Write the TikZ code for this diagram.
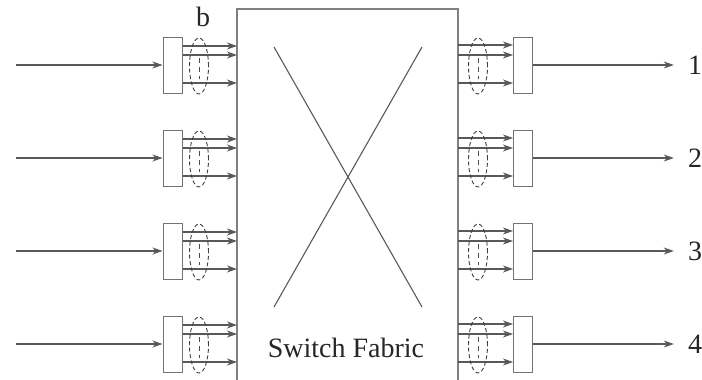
\documentclass[tikz,border=0pt]{standalone}
\usepackage{fontspec}
\setmainfont{Liberation Serif}
\usetikzlibrary{arrows.meta,shapes.geometric}
\begin{document}
\begin{tikzpicture}[x=1pt,y=-1pt,
  ln/.style={draw=black!65,line width=1.1pt},
  arr/.style={ln,-{Stealth[length=10pt,width=7pt,inset=3pt]}},
  portbox/.style={draw=black!55,line width=1pt,minimum width=19pt,minimum height=56pt,inner sep=0pt,fill=white},
  bundle/.style={ellipse,draw=black!75,line width=0.9pt,dash pattern=on 4pt off 2.5pt,minimum width=19pt,minimum height=56pt,inner sep=0pt},
  dots/.style={draw=black!70,line width=0.9pt,dash pattern=on 5pt off 4pt},
  lbl/.style={font=\fontsize{28}{32}\selectfont,text=black!85,inner sep=0pt}]
\useasboundingbox (0,0) rectangle (702,380);
% switch fabric
\coordinate (FL) at (237,0);
\coordinate (FR) at (458,0);
\draw[draw=black!50,line width=1.1pt] (237,382) -- (237,9) -- (458,9) -- (458,382);
\coordinate (x1) at (274,47);
\coordinate (x2) at (422,307);
\coordinate (x3) at (422,47);
\coordinate (x4) at (274,307);
\draw[ln] (x1) -- (x2);
\draw[ln] (x3) -- (x4);
\node[lbl] (sf) at (346,348) {Switch Fabric};
\node[lbl] (b) at (203,17) {b};
\foreach \i/\y in {1/65,2/158,3/251,4/344}{
  % input side
  \coordinate (src\i) at (16,\y);
  \node[portbox] (ib\i) at (172.5,\y) {};
  \draw[arr] (src\i) -- (ib\i.west);
  \foreach \d in {19,10,-18}{
    \draw[arr] ([yshift=\d pt]ib\i.east) coordinate (s) -- (s -| FL);
  }
  \node[bundle] (ie\i) at (199,\y+1) {};
  \draw[dots] ([yshift=8pt]ie\i.center) -- ([yshift=-13pt]ie\i.center);
  % output side
  \node[portbox] (ob\i) at (523,\y) {};
  \foreach \d in {20,10,-18}{
    \draw[arr] ([yshift=\d pt]ob\i.west -| FR) coordinate (t) -- ([yshift=\d pt]ob\i.west);
  }
  \node[bundle] (oe\i) at (478,\y+1) {};
  \draw[dots] ([yshift=8pt]oe\i.center) -- ([yshift=-13pt]oe\i.center);
  \node[lbl] (lab\i) at (695,\y) {\i};
  \draw[arr] (ob\i.east) -- ([xshift=-14pt]lab\i.west);
}
\end{tikzpicture}
\end{document}
